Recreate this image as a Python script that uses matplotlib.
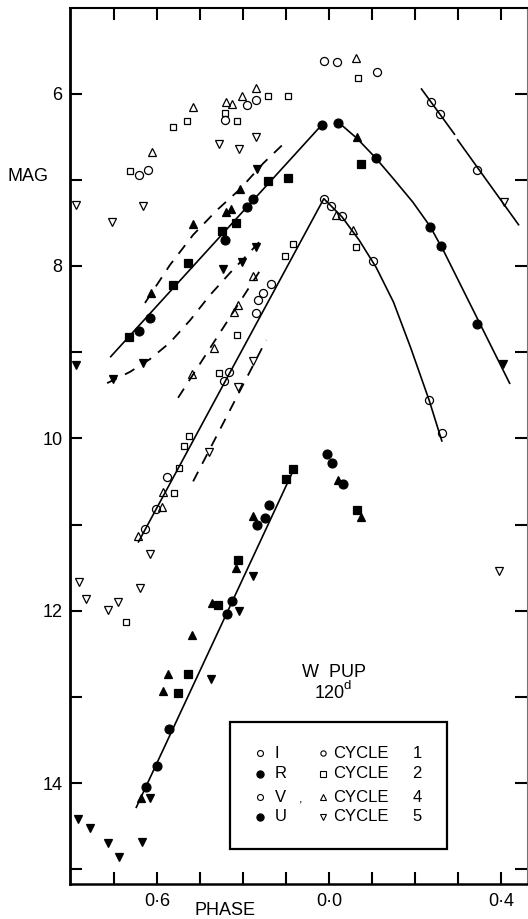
"""Light curves of W Pup (I, R, V, U) against phase, four cycles."""

import numpy as np
import matplotlib

matplotlib.use("Agg")
import matplotlib.pyplot as plt
from matplotlib.patches import Rectangle

plt.rcParams["font.family"] = ["Liberation Sans", "DejaVu Sans"]

# (phase, magnitude) readings; phase runs on past 1.0 (labelled 0.0 .. 0.4)
I_cyc1 = [(0.558, 6.95), (0.579, 6.89), (0.758, 6.31), (0.809, 6.13), (0.830, 6.07),
          (0.988, 5.62), (1.019, 5.63), (1.112, 5.75), (1.237, 6.10), (1.258, 6.24),
          (1.344, 6.89)]
I_cyc2 = [(0.537, 6.90), (0.637, 6.39), (0.670, 6.32), (0.758, 6.23), (0.786, 6.32),
          (0.858, 6.03), (0.905, 6.03), (1.067, 5.82)]
I_cyc4 = [(0.588, 6.68), (0.684, 6.16), (0.760, 6.10), (0.774, 6.12), (0.798, 6.03),
          (0.830, 5.94), (1.063, 5.59)]
I_cyc5 = [(0.412, 7.29), (0.495, 7.49), (0.567, 7.30), (0.744, 6.59), (0.791, 6.64),
          (0.830, 6.51), (1.407, 7.26)]

R_cyc1 = [(0.558, 8.76), (0.584, 8.60), (0.758, 7.70), (0.809, 7.32), (0.823, 7.22),
          (0.984, 6.36), (1.021, 6.34), (1.109, 6.75), (1.235, 7.55), (1.260, 7.77),
          (1.344, 8.67)]
R_cyc2 = [(0.535, 8.83), (0.637, 8.22), (0.672, 7.97), (0.751, 7.59), (0.784, 7.50),
          (0.858, 7.02), (0.905, 6.98), (1.074, 6.82)]
R_cyc4 = [(0.586, 8.31), (0.684, 7.51), (0.760, 7.37), (0.772, 7.34), (0.793, 7.11),
          (1.065, 6.50)]
R_cyc5 = [(0.412, 9.15), (0.498, 9.31), (0.567, 9.13), (0.753, 8.04), (0.798, 7.95),
          (0.830, 7.78), (0.833, 6.87), (1.405, 9.14)]

V_cyc1 = [(0.572, 11.05), (0.597, 10.82), (0.623, 10.45), (0.756, 9.33), (0.767, 9.23),
          (0.830, 8.55), (0.835, 8.39), (0.847, 8.31), (0.865, 8.21), (0.988, 7.22),
          (1.005, 7.30), (1.030, 7.42), (1.102, 7.94), (1.233, 9.56), (1.263, 9.94)]
V_cyc2 = [(0.528, 12.13), (0.640, 10.64), (0.651, 10.35), (0.663, 10.09), (0.674, 9.97),
          (0.744, 9.24), (0.786, 8.80), (0.898, 7.88), (0.916, 7.75), (1.063, 7.78)]
V_cyc4 = [(0.556, 11.13), (0.611, 10.80), (0.614, 10.62), (0.681, 9.25), (0.733, 8.95),
          (0.779, 8.53), (0.788, 8.45), (0.823, 8.12), (1.016, 7.41), (1.056, 7.58)]
V_cyc5 = [(0.418, 11.67), (0.435, 11.86), (0.486, 11.99), (0.509, 11.90), (0.560, 11.74),
          (0.584, 11.34), (0.721, 10.16), (0.788, 9.40), (0.823, 9.10), (1.395, 11.54)]

U_cyc1 = [(0.574, 14.04), (0.600, 13.80), (0.628, 13.37), (0.763, 12.04), (0.774, 11.89),
          (0.833, 11.01), (0.851, 10.92), (0.860, 10.77), (0.995, 10.18), (1.007, 10.29),
          (1.033, 10.53)]
U_cyc2 = [(0.649, 12.96), (0.672, 12.74), (0.742, 11.93), (0.788, 11.41), (0.900, 10.47),
          (0.916, 10.36), (1.065, 10.83)]
U_cyc4 = [(0.563, 14.17), (0.614, 12.93), (0.626, 12.74), (0.681, 12.28), (0.728, 11.91),
          (0.784, 11.50), (0.823, 10.90), (1.021, 10.48), (1.074, 10.91)]
U_cyc5 = [(0.416, 14.42), (0.444, 14.52), (0.486, 14.69), (0.512, 14.86), (0.565, 14.68),
          (0.584, 14.17), (0.726, 12.79), (0.791, 12.00), (0.823, 11.60)]

# hand-drawn mean curves
I_fall_a = [(1.214, 5.94), (1.293, 6.48)]
I_fall_b = [(1.298, 6.53), (1.442, 7.53)]
R_rise = [(0.491, 9.06), (0.984, 6.36)]
R_fall = [(1.021, 6.33), (1.065, 6.52), (1.109, 6.75), (1.150, 6.99), (1.195, 7.26),
          (1.235, 7.54), (1.268, 7.84), (1.300, 8.16), (1.350, 8.66), (1.398, 9.14),
          (1.421, 9.37)]
V_line = [(0.556, 11.21), (0.988, 7.22), (1.030, 7.43), (1.070, 7.70), (1.110, 8.02),
          (1.150, 8.42), (1.190, 8.95), (1.233, 9.56), (1.263, 10.04)]
U_rise = [(0.551, 14.29), (0.921, 10.33)]
R_dash_hi = [(0.572, 8.43), (0.630, 7.99), (0.684, 7.64), (0.740, 7.35), (0.793, 7.11),
             (0.847, 6.81), (0.893, 6.59)]
R_dash_lo = [(0.484, 9.36), (0.537, 9.23), (0.584, 9.08), (0.630, 8.89), (0.677, 8.63),
             (0.723, 8.34), (0.770, 8.08), (0.816, 7.84), (0.844, 7.69)]
V_dash_hi = [(0.649, 9.53), (0.844, 8.02)]
V_dash_lo = [(0.684, 10.50), (0.854, 8.86)]

x_ticks = [0.5, 0.6, 0.7, 0.8, 0.9, 1.0, 1.1, 1.2, 1.3, 1.4]
x_labels = ["", "0·6", "", "", "", "0·0", "", "", "", "0·4"]
y_ticks = [6, 7, 8, 9, 10, 11, 12, 13, 14, 15]
y_labels = ["6", "", "8", "", "10", "", "12", "", "14", ""]

bands = ["I", "R", "V", "U"]
band_filled = {"I": False, "R": True, "V": False, "U": True}
cycles = [1, 2, 4, 5]
cycle_marker = {1: "o", 2: "s", 4: "^", 5: "v"}
marker_size = {"o": 5.8, "s": 5.0, "^": 5.6, "v": 5.6}
points = {
    "I": [I_cyc1, I_cyc2, I_cyc4, I_cyc5],
    "R": [R_cyc1, R_cyc2, R_cyc4, R_cyc5],
    "V": [V_cyc1, V_cyc2, V_cyc4, V_cyc5],
    "U": [U_cyc1, U_cyc2, U_cyc4, U_cyc5],
}

fig = plt.figure(figsize=(5.28, 9.19), dpi=100)
ax = fig.add_axes([69.5 / 528, 35 / 919, 457.5 / 528, 876 / 919])

for curve in [I_fall_a, I_fall_b, R_rise, R_fall, V_line, U_rise]:
    ph, mag = np.array(curve).T
    ax.plot(ph, mag, color="black", lw=1.2, solid_capstyle="butt")
for curve in [R_dash_hi, R_dash_lo, V_dash_hi, V_dash_lo]:
    ph, mag = np.array(curve).T
    ax.plot(ph, mag, color="black", lw=1.3, dashes=(6, 5), dash_capstyle="butt")

for band in bands:
    for cyc, pts in zip(cycles, points[band]):
        ph, mag = np.array(pts).T
        m = cycle_marker[cyc]
        ms = marker_size[m] + (0.6 if band_filled[band] else 0.0)
        ax.plot(ph, mag, ls="none", marker=m, ms=ms,
                mfc="black" if band_filled[band] else "none",
                mec="black", mew=0.9)

ax.set_xlim(0.3965, 1.4605)
ax.set_ylim(15.1705, 5.008)
ax.set_xticks(x_ticks)
ax.set_xticklabels(x_labels)
ax.set_yticks(y_ticks)
ax.set_yticklabels(y_labels)
ax.tick_params(direction="in", length=8.5, width=1.5, top=True, right=True,
               labelsize=13, colors="black")
ax.tick_params(axis="x", pad=6.5)
ax.tick_params(axis="y", pad=5)

ax.spines["left"].set_linewidth(2.0)
ax.spines["bottom"].set_linewidth(1.8)
ax.spines["top"].set_linewidth(1.5)
ax.spines["right"].set_linewidth(0.8)
ax.spines["right"].set_color("0.45")

ax.text(-0.0907, 0.808, "MAG", transform=ax.transAxes, ha="center", va="center",
        fontsize=13)
ax.text(0.340, -0.0297, "PHASE", transform=ax.transAxes, ha="center", va="center",
        fontsize=13)

# star name and period
ax.text(0.578, 0.2420, "W  PUP", transform=ax.transAxes, ha="center", va="center",
        fontsize=13)
ax.text(0.568, 0.2170, "120", transform=ax.transAxes, ha="center", va="center",
        fontsize=13)
ax.text(0.600, 0.2255, "d", transform=ax.transAxes, ha="left", va="center",
        fontsize=9.5)

# key box
ax.add_patch(Rectangle((0.351, 0.040), 0.474, 0.145, transform=ax.transAxes,
                       fill=False, lw=1.6, ec="black"))
row_y = [0.1495, 0.1256, 0.0993, 0.0765]
for yy, band in zip(row_y, bands):
    filled = band_filled[band]
    ax.plot([0.4164], [yy], transform=ax.transAxes, marker="o",
            ms=5.2 if filled else 4.3, mfc="black" if filled else "none",
            mec="black", mew=0.8, clip_on=False)
    ax.text(0.449, yy, band, transform=ax.transAxes, ha="left", va="center",
            fontsize=12)
for yy, cyc in zip(row_y, cycles):
    m = cycle_marker[cyc]
    ax.plot([0.554], [yy], transform=ax.transAxes, marker=m, ms=3.8, mfc="none",
            mec="black", mew=0.8, clip_on=False)
    ax.text(0.576, yy, "CYCLE", transform=ax.transAxes, ha="left", va="center",
            fontsize=12)
    ax.text(0.760, yy, str(cyc), transform=ax.transAxes, ha="center", va="center",
            fontsize=12)
ax.text(0.506, 0.096, ",", transform=ax.transAxes, ha="center", va="center",
        fontsize=9)

fig.savefig("out.png", dpi=100)
plt.close(fig)
